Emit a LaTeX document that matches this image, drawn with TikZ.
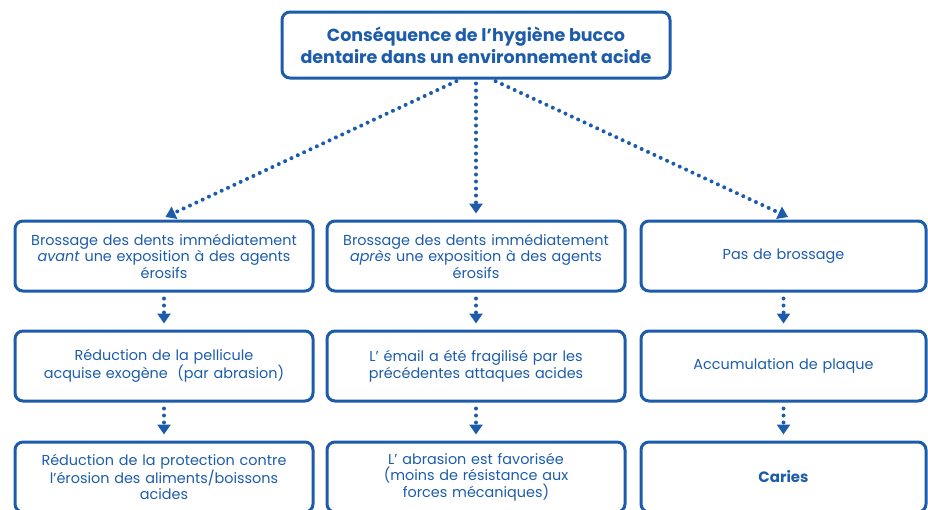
\documentclass[tikz,border=0pt]{standalone}
\usepackage{fontspec}
\setmainfont{Poppins}
\usetikzlibrary{arrows.meta}
\definecolor{bleu}{RGB}{28,92,170}

\begin{document}
\begin{tikzpicture}[
  x=1pt, y=-1pt,
  every node/.style={text=bleu, font=\fontsize{14.4}{16.5}\selectfont, align=center},
  boite/.style={draw=bleu, line width=3pt, rounded corners=8pt, minimum height=70pt, inner sep=2pt},
  col/.style={boite, text width=290pt, minimum width=298pt},
  colr/.style={boite, text width=275pt, minimum width=285pt},
  fleche/.style={draw=bleu, line width=4pt, line cap=round, dash pattern=on 0pt off 7pt,
    -{Triangle[width=13pt,length=10pt]}, shorten <=6pt, shorten >=6pt}
]
\useasboundingbox (0,0) rectangle (928,509);
\clip (0,0) rectangle (928,509);

% titre:
\node [boite, minimum width=388pt, minimum height=66pt, font=\bfseries\fontsize{17.5}{22}\selectfont]
  (titre) at (476,45) {Conséquence de l’hygiène bucco\\dentaire dans un environnement acide};

% premiere ligne:
\node [col] (avant) at (164,256) {Brossage des dents immédiatement\\\textit{avant} une exposition à des agents\\érosifs};
\node [col] (apres) at (476,256) {Brossage des dents immédiatement\\\textit{après} une exposition à des agents\\érosifs};
\node [colr] (pas) at (783.5,256) {Pas de brossage};

% deuxieme ligne:
\node [col] (pellicule) at (164,366) {Réduction de la pellicule\\acquise exogène~ (par abrasion)};
\node [col] (email) at (476,366) {L’ émail a été fragilisé par les\\précédentes attaques acides};
\node [colr] (plaque) at (783.5,366) {Accumulation de plaque};

% troisieme ligne:
\node [col] (protection) at (164,477) {Réduction de la protection contre\\l’érosion des aliments/boissons\\acides};
\node [col] (abrasion) at (476,477) {L’ abrasion est favorisée\\(moins de résistance aux\\forces mécaniques)};
\node [colr, font=\bfseries\fontsize{15}{18}\selectfont] (caries) at (783.5,477) {Caries};

% fleches:
\draw [fleche, shorten <=4pt] ([xshift=-16pt]titre.south) -- ([xshift=-4pt]avant.north);
\draw [fleche, shorten <=4pt] (titre.south) -- (apres.north);
\draw [fleche, shorten <=4pt] ([xshift=16pt]titre.south) -- ([xshift=10pt]pas.north);
\foreach \a/\b in {avant/pellicule, pellicule/protection, apres/email, email/abrasion, pas/plaque, plaque/caries}
  \draw [fleche] (\a.south) -- (\b.north);
\end{tikzpicture}
\end{document}
